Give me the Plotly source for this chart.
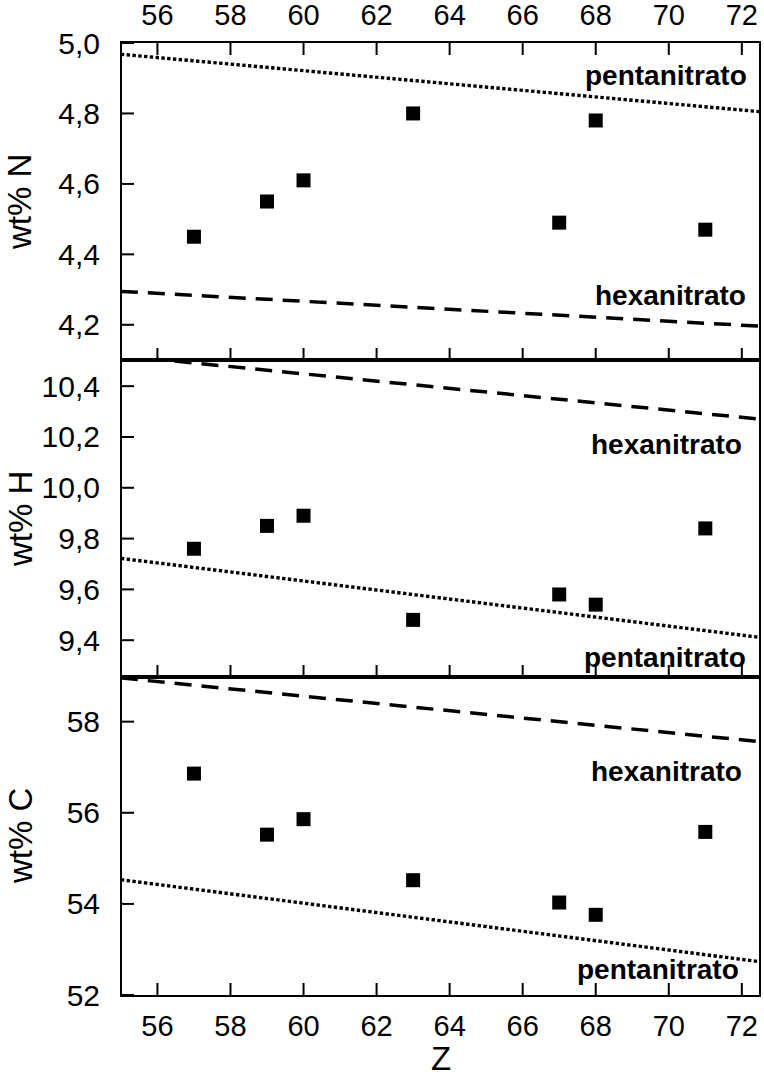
import plotly.graph_objects as go

# ---- data ----
Z = [57, 59, 60, 63, 67, 68, 71]
wt_N = [4.45, 4.55, 4.61, 4.80, 4.49, 4.78, 4.47]
wt_H = [9.76, 9.85, 9.89, 9.48, 9.58, 9.54, 9.84]
wt_C = [56.86, 55.52, 55.86, 54.52, 54.03, 53.76, 55.58]

Z_line = [55.0, 72.5]
N_penta = [4.968, 4.805]
N_hexa = [4.295, 4.196]
H_penta = [9.722, 9.411]
H_hexa = [10.52, 10.27]
C_penta = [54.53, 52.73]
C_hexa = [58.96, 57.56]

x_ticks = [56, 58, 60, 62, 64, 66, 68, 70, 72]
yN_ticks = [4.2, 4.4, 4.6, 4.8, 5.0]
yH_ticks = [9.4, 9.6, 9.8, 10.0, 10.2, 10.4]
yC_ticks = [52, 54, 56, 58]

FONT = "Liberation Sans, Arial, sans-serif"
XR = [55.03, 72.47]
YR_C = [52, 58.98]
YR_H = [9.255, 10.503]
YR_N = [4.1, 5.0]
DOM_C = [0, 0.334]
DOM_H = [0.334, 0.667]
DOM_N = [0.667, 1]

fig = go.Figure()

panels = [
    ("x3", "y3", wt_N, N_penta, N_hexa),
    ("x2", "y2", wt_H, H_penta, H_hexa),
    ("x", "y", wt_C, C_penta, C_hexa),
]
for xa, ya, vals, penta, hexa in panels:
    fig.add_trace(go.Scatter(x=Z_line, y=penta, mode="lines", xaxis=xa, yaxis=ya,
                             line=dict(color="black", width=3.4, dash="3.4px,2.4px"),
                             showlegend=False, hoverinfo="skip"))
    fig.add_trace(go.Scatter(x=Z_line, y=hexa, mode="lines", xaxis=xa, yaxis=ya,
                             line=dict(color="black", width=3.5, dash="17px,10px"),
                             showlegend=False, hoverinfo="skip"))
    fig.add_trace(go.Scatter(x=Z, y=vals, mode="markers", xaxis=xa, yaxis=ya,
                             marker=dict(symbol="square", size=14, color="black",
                                         line=dict(width=0)),
                             showlegend=False))

frame = dict(showline=True, linecolor="black", linewidth=2, mirror=True,
             ticks="", showgrid=False, zeroline=False, automargin=False)

xfont = dict(family=FONT, size=29, color="black")
yfont = dict(family=FONT, size=30, color="black")

fig.update_layout(
    template="none",
    width=764, height=1092,
    margin=dict(l=122, r=5, t=43, b=97),
    paper_bgcolor="white", plot_bgcolor="rgba(0,0,0,0)",
    separators=",.",
    font=dict(family=FONT, color="black"),
    xaxis=dict(frame, anchor="y", domain=[0, 1], range=XR, tickmode="array",
               tickvals=x_ticks, tickfont=xfont, ticklabelstandoff=4),
    xaxis2=dict(frame, anchor="y2", domain=[0, 1], range=XR, showticklabels=False),
    xaxis3=dict(frame, anchor="y3", domain=[0, 1], range=XR, side="top", tickmode="array",
                tickvals=x_ticks, tickfont=xfont, ticklabelstandoff=4),
    yaxis=dict(frame, anchor="x", domain=DOM_C, range=YR_C, tickmode="array",
               tickvals=yC_ticks, tickformat="d", tickfont=yfont, ticklabelstandoff=14),
    yaxis2=dict(frame, anchor="x2", domain=DOM_H, range=YR_H, tickmode="array",
                tickvals=yH_ticks, tickformat=".1f", tickfont=yfont, ticklabelstandoff=14),
    yaxis3=dict(frame, anchor="x3", domain=DOM_N, range=YR_N, tickmode="array",
                tickvals=yN_ticks, tickformat=".1f", tickfont=yfont, ticklabelstandoff=14),
)

# inward tick marks, placed through each axis' own scale
TL = 12  # tick length in px
plot_w = 764 - 122 - 5
plot_h = 1092 - 43 - 97
tick_line = dict(color="black", width=2)

x_tick_sides = [  # (x axis, y axis, domain, edge 0=bottom / 1=top)
    ("x", "y", DOM_C, 0),
    ("x2", "y2", DOM_H, 0),
    ("x3", "y3", DOM_N, 0),
    ("x3", "y3", DOM_N, 1),
]
for xa, ya, dom, edge in x_tick_sides:
    frac = TL / ((dom[1] - dom[0]) * plot_h)
    for v in x_ticks:
        y0, y1 = (0, frac) if edge == 0 else (1, 1 - frac)
        fig.add_shape(type="line", xref=xa, yref=f"{ya} domain", x0=v, x1=v,
                      y0=y0, y1=y1, line=tick_line, layer="above")

y_tick_sets = [("x", "y", yC_ticks), ("x2", "y2", yH_ticks), ("x3", "y3", yN_ticks)]
for xa, ya, tv in y_tick_sets:
    frac = TL / plot_w
    for v in tv:
        fig.add_shape(type="line", xref=f"{xa} domain", yref=ya, x0=0, x1=frac,
                      y0=v, y1=v, line=tick_line, layer="above")

lab_font = dict(family=FONT, size=28, color="black")
labels = [
    ("x3 domain", "y3 domain", 0.984, 0.899, "pentanitrato"),
    ("x3 domain", "y3 domain", 0.982, 0.204, "hexanitrato"),
    ("x2 domain", "y2 domain", 0.976, 0.733, "hexanitrato"),
    ("x2 domain", "y2 domain", 0.982, 0.063, "pentanitrato"),
    ("x domain", "y domain", 0.977, 0.702, "hexanitrato"),
    ("x domain", "y domain", 0.971, 0.079, "pentanitrato"),
]
for xr, yr, xp, yp, t in labels:
    fig.add_annotation(xref=xr, yref=yr, x=xp, y=yp, text=f"<b>{t}</b>",
                       showarrow=False, xanchor="right", yanchor="middle", font=lab_font)

titles = [(0.833, "wt% N"), (0.5, "wt% H"), (0.167, "wt% C")]
for yp, t in titles:
    fig.add_annotation(xref="paper", yref="paper", x=(20 - 122) / 637, y=yp, text=t,
                       textangle=-90, showarrow=False, xanchor="center", yanchor="middle",
                       font=dict(family=FONT, size=33, color="black"))

fig.add_annotation(xref="paper", yref="paper", x=0.5, y=-(1058 - 995) / 952, text="Z",
                   showarrow=False, xanchor="center", yanchor="middle",
                   font=dict(family=FONT, size=33, color="black"))

fig.write_html("out.html", config={"displayModeBar": False},
               post_script="document.body.style.margin='0';document.body.style.overflow='hidden';")
